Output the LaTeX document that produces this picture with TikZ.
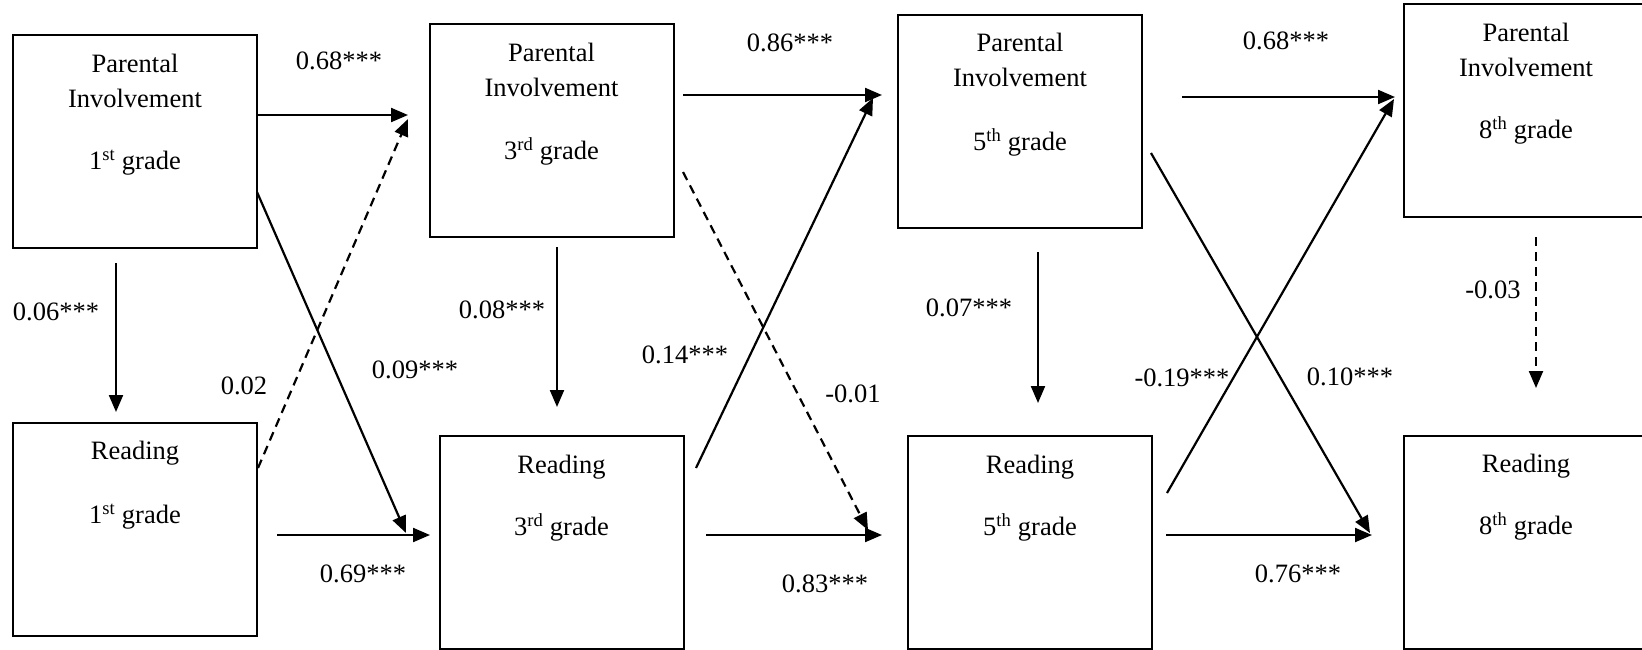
\documentclass[tikz,border=0pt]{standalone}
\usepackage{fontspec}
\setmainfont{Liberation Serif}
\usetikzlibrary{arrows.meta}
\begin{document}
\begin{tikzpicture}[x=1pt,y=-1pt,
  box/.style={draw, line width=2pt, minimum width=244pt, minimum height=213pt, inner sep=0pt},
  boxtext/.style={anchor=north, align=center, inner sep=0pt, font=\fontsize{26.5}{35}\selectfont},
  lbl/.style={inner sep=0pt, font=\fontsize{26.5}{32}\selectfont},
  conn/.style={line width=2.2pt, -{Triangle[length=17pt,width=14pt]}},
  dconn/.style={conn, dash pattern=on 9pt off 6pt}]
\useasboundingbox (0,0) rectangle (1642,649);
\clip (0,0) rectangle (1642,649);

% boxes
\node[box] (pi1) at (135,141.5) {};
\node[box] (r1)  at (135,529.5) {};
\node[box] (pi3) at (551.5,130.5) {};
\node[box] (r3)  at (561.5,542) {};
\node[box] (pi5) at (1020,121.5) {};
\node[box] (r5)  at (1030,542) {};
\node[box] (pi8) at (1526,110.5) {};
\node[box] (r8)  at (1526,542.5) {};

% box texts
\node[boxtext] (pi1t) at ([yshift=-20pt]pi1.north) {Parental\\Involvement\\[27pt]1\textsuperscript{st} grade};
\node[boxtext] (r1t)  at ([yshift=-19pt]r1.north)  {Reading\\[29pt]1\textsuperscript{st} grade};
\node[boxtext] (pi3t) at ([yshift=-20pt]pi3.north) {Parental\\Involvement\\[28pt]3\textsuperscript{rd} grade};
\node[boxtext] (r3t)  at ([yshift=-20pt]r3.north)  {Reading\\[27pt]3\textsuperscript{rd} grade};
\node[boxtext] (pi5t) at ([yshift=-19pt]pi5.north) {Parental\\Involvement\\[29pt]5\textsuperscript{th} grade};
\node[boxtext] (r5t)  at ([yshift=-20pt]r5.north)  {Reading\\[27pt]5\textsuperscript{th} grade};
\node[boxtext] (pi8t) at ([yshift=-20pt]pi8.north) {Parental\\Involvement\\[27pt]8\textsuperscript{th} grade};
\node[boxtext] (r8t)  at ([yshift=-19pt]r8.north)  {Reading\\[27pt]8\textsuperscript{th} grade};

% connector end points
\coordinate (a1s) at (257,115);  \coordinate (a1e) at (408,115);
\coordinate (a2s) at (277,535);  \coordinate (a2e) at (430,535);
\coordinate (a3s) at (116,263);  \coordinate (a3e) at (116,412);
\coordinate (a4s) at (258,468);  \coordinate (a4e) at (408,119);
\coordinate (a5s) at (257,192);  \coordinate (a5e) at (406,533);
\coordinate (b1s) at (683,95);   \coordinate (b1e) at (882,95);
\coordinate (b2s) at (706,535);  \coordinate (b2e) at (882,535);
\coordinate (b3s) at (557,247);  \coordinate (b3e) at (557,407);
\coordinate (b4s) at (696,468);  \coordinate (b4e) at (873,98);
\coordinate (b5s) at (683,172);  \coordinate (b5e) at (868,530);
\coordinate (c1s) at (1182,97);  \coordinate (c1e) at (1395,97);
\coordinate (c2s) at (1166,535); \coordinate (c2e) at (1372,535);
\coordinate (c3s) at (1038,252); \coordinate (c3e) at (1038,403);
\coordinate (c4s) at (1167,493); \coordinate (c4e) at (1394,99);
\coordinate (c5s) at (1151,153); \coordinate (c5e) at (1370,533);
\coordinate (d1s) at (1536,237); \coordinate (d1e) at (1536,388);

% connectors
\draw[conn]  (a1s) -- (a1e);
\draw[conn]  (a2s) -- (a2e);
\draw[conn]  (a3s) -- (a3e);
\draw[dconn] (a4s) -- (a4e);
\draw[conn]  (a5s) -- (a5e);
\draw[conn]  (b1s) -- (b1e);
\draw[conn]  (b2s) -- (b2e);
\draw[conn]  (b3s) -- (b3e);
\draw[conn]  (b4s) -- (b4e);
\draw[dconn] (b5s) -- (b5e);
\draw[conn]  (c1s) -- (c1e);
\draw[conn]  (c2s) -- (c2e);
\draw[conn]  (c3s) -- (c3e);
\draw[conn]  (c4s) -- (c4e);
\draw[conn]  (c5s) -- (c5e);
\draw[dconn] (d1s) -- (d1e);

% labels
\node[lbl] (l1)  at (339,61)   {0.68***};
\node[lbl] (l2)  at (363,574)  {0.69***};
\node[lbl] (l3)  at (56,312)   {0.06***};
\node[lbl] (l4)  at (244,386)  {0.02};
\node[lbl] (l5)  at (415,370)  {0.09***};
\node[lbl] (l6)  at (790,43)   {0.86***};
\node[lbl] (l7)  at (825,584)  {0.83***};
\node[lbl] (l8)  at (502,310)  {0.08***};
\node[lbl] (l9)  at (685,355)  {0.14***};
\node[lbl] (l10) at (853,394)  {-0.01};
\node[lbl] (l11) at (1286,41)  {0.68***};
\node[lbl] (l12) at (1298,574) {0.76***};
\node[lbl] (l13) at (969,308)  {0.07***};
\node[lbl] (l14) at (1182,378) {-0.19***};
\node[lbl] (l15) at (1350,377) {0.10***};
\node[lbl] (l16) at (1493,290) {-0.03};
\end{tikzpicture}
\end{document}
